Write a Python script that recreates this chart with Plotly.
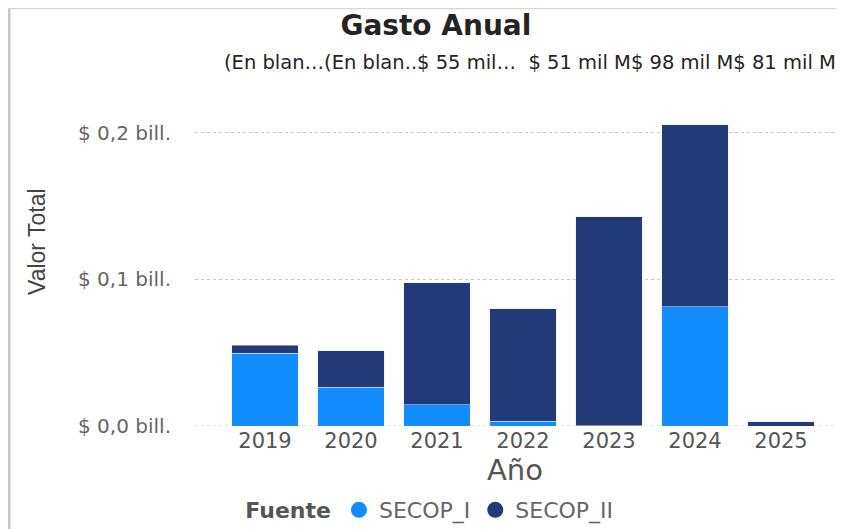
import plotly.graph_objects as go

# datos (billones de pesos)
anios = ["2019", "2020", "2021", "2022", "2023", "2024", "2025"]
secop_i = [0.0496, 0.0266, 0.0146, 0.0034, 0.0003, 0.0812, 0.0]
secop_ii = [0.0055, 0.0246, 0.0830, 0.0765, 0.1424, 0.1243, 0.0030]
etiquetas = "(En blan…(En blan..$ 55 mil…  $ 51 mil M$ 98 mil M$ 81 mil M"
ticks_y = [0, 0.1, 0.2]
ticks_txt = ["$ 0,0 bill.", "$ 0,1 bill.", "$ 0,2 bill."]

c1 = "#118DFF"
c2 = "#233A78"
fuente = "DejaVu Sans, sans-serif"


# pantalla -> coordenadas paper (area de trazado 195..835 x 105..426)
def px_x(X):
    return (X - 195) / 640


def px_y(Y):
    return (426 - Y) / 321


fig = go.Figure()
fig.add_trace(go.Bar(x=anios, y=secop_i, name="SECOP_I", marker_color=c1,
                     showlegend=False))
fig.add_trace(go.Bar(x=anios, y=secop_ii, name="SECOP_II", marker_color=c2,
                     showlegend=False))
# leyenda con circulos
for nombre, col in [("SECOP_I", c1), ("SECOP_II", c2)]:
    fig.add_trace(go.Scatter(x=[None], y=[None], mode="markers", name=nombre,
                             marker=dict(color=col, size=16, symbol="circle")))

fig.update_layout(
    width=844, height=529,
    barmode="stack", bargap=0.23,
    plot_bgcolor="white", paper_bgcolor="white",
    margin=dict(l=187, r=17, t=97, b=111),
    font=dict(family=fuente, color="#555555"),
    title=dict(text="<b>Gasto Anual</b>", xref="container", yref="container",
               x=0.507, xanchor="center", y=0.968, yanchor="middle",
               font=dict(size=28, color="#252423", family=fuente)),
    legend=dict(orientation="h", xref="container", yref="container",
                x=0.501, xanchor="center", y=0.051, yanchor="middle",
                traceorder="normal",
                title=dict(text="<b>Fuente</b>", font=dict(size=22, color="#555555")),
                font=dict(size=22, color="#666666"), tracegroupgap=0),
)
fig.update_xaxes(title=dict(text="Año", font=dict(size=29, color="#555555"), standoff=4),
                 tickfont=dict(size=21, color="#555555"), showgrid=False,
                 showline=False, ticks="", range=[-0.814, 6.628], automargin=False)
fig.update_yaxes(range=[0, 0.219], tickvals=ticks_y, ticktext=ticks_txt,
                 tickfont=dict(size=20, color="#666666"), automargin=False,
                 showgrid=True, gridcolor="#C8C8C8", griddash="dot", gridwidth=1,
                 zeroline=False, ticks="", ticklabelstandoff=23)

# linea de cero punteada
fig.add_shape(type="line", xref="paper", yref="y", x0=0, x1=1, y0=0, y1=0,
              line=dict(color="#C8C8C8", width=1, dash="dot"), layer="below")
# titulo eje y
fig.add_annotation(text="Valor Total", xref="paper", yref="paper",
                   x=px_x(37), y=px_y(242), textangle=-90, showarrow=False,
                   xanchor="center", yanchor="middle",
                   font=dict(size=23, color="#444444", family="Liberation Sans, Arial, sans-serif"))
# etiquetas de datos truncadas
fig.add_annotation(text=etiquetas, xref="paper", yref="paper", x=px_x(222),
                   y=px_y(62), xanchor="left", yanchor="middle", showarrow=False,
                   font=dict(size=19.5, color="#252423", family=fuente))
# borde del visual
fig.add_shape(type="line", xref="paper", yref="paper", x0=px_x(9), x1=px_x(9),
              y0=px_y(540), y1=px_y(8), line=dict(color="#C8C8C8", width=3))
fig.add_shape(type="line", xref="paper", yref="paper", x0=px_x(8), x1=px_x(850),
              y0=px_y(8), y1=px_y(8), line=dict(color="#D6D6D6", width=2.5))

fig.write_html("out.html")
